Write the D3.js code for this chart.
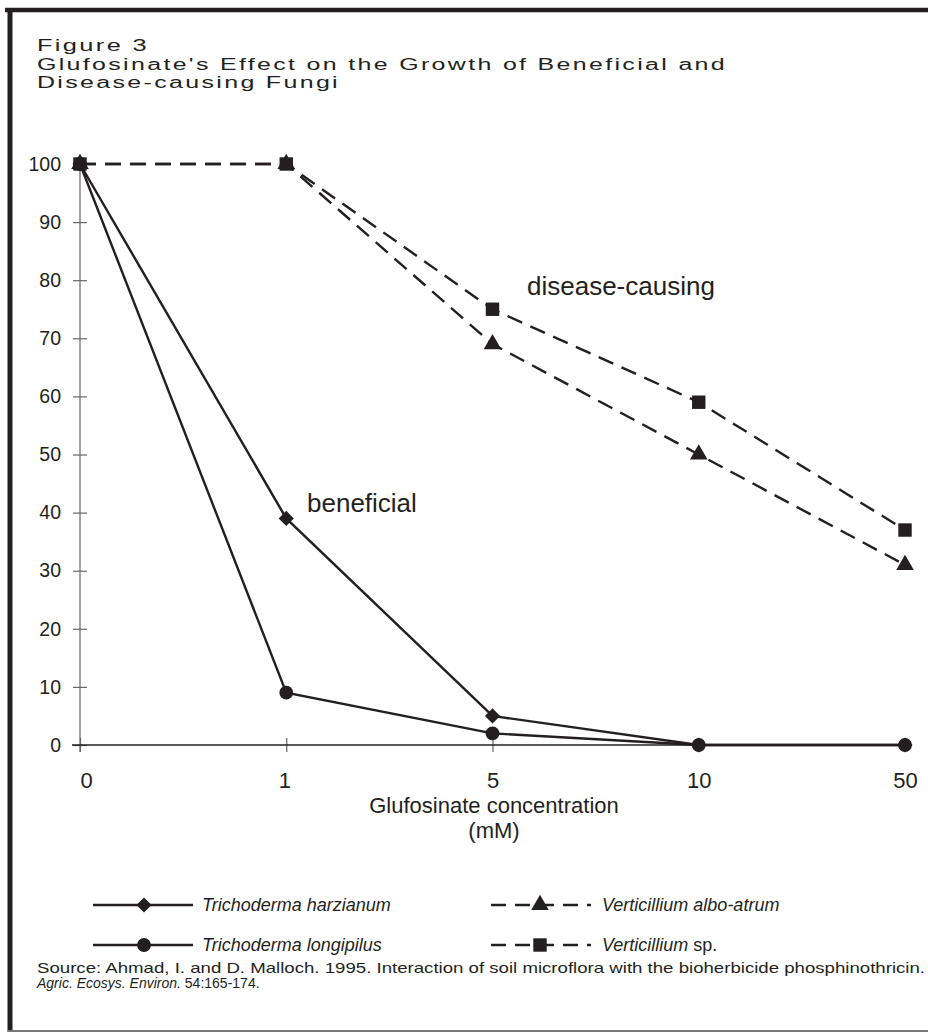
<!DOCTYPE html>
<html>
<head>
<meta charset="utf-8">
<script src="https://cdn.jsdelivr.net/npm/d3@7"></script>
<style>
  body { margin: 0; background: #fff; }
  svg { display: block; }
</style>
</head>
<body>
<div id="chart"></div>
<script>
const concentrations = ['0', '1', '5', '10', '50'];
const harzianum = [100, 39, 5, 0, 0];
const longipilus = [100, 9, 2, 0, 0];
const alboAtrum = [100, 100, 69, 50, 31];
const verticilliumSp = [100, 100, 75, 59, 37];
const yTicks = [0, 10, 20, 30, 40, 50, 60, 70, 80, 90, 100];

const ink = '#231f20';
const sans = '"Liberation Sans", Arial, sans-serif';
const fullWidth = 928;
const fullHeight = 1036;

let svg = d3.select('#chart')
            .append('svg')
            .attr('width', fullWidth)
            .attr('height', fullHeight);

// frame
svg.append('line')
   .attr('x1', 5).attr('x2', fullWidth).attr('y1', 10).attr('y2', 10)
   .attr('stroke', ink).attr('stroke-width', 4.5);
svg.append('line')
   .attr('x1', 10).attr('x2', 10).attr('y1', 8).attr('y2', 1032)
   .attr('stroke', ink).attr('stroke-width', 5);
svg.append('line')
   .attr('x1', 8).attr('x2', fullWidth).attr('y1', 1031).attr('y2', 1031)
   .attr('stroke', '#777').attr('stroke-width', 2);

// title
const titleLines = ['Figure 3',
                    "Glufosinate's Effect on the Growth of Beneficial and",
                    'Disease-causing Fungi'];
const titleWidths = [112, 690, 303];
svg.append('g')
   .selectAll('text')
   .data(titleLines)
   .join('text')
     .attr('x', 37)
     .attr('y', (d, i) => 51 + i * 18.7)
     .attr('fill', ink)
     .attr('font-family', sans)
     .attr('font-size', 16)
     .attr('textLength', (d, i) => titleWidths[i])
     .attr('lengthAdjust', 'spacingAndGlyphs')
     .attr('letter-spacing', 1.5)
     .text(d => d);

let x = d3.scalePoint()
          .domain(concentrations)
          .range([80, 905]);

let y = d3.scaleLinear()
          .domain([0, 100])
          .range([745, 164]);

// y axis
let yAxis = svg.append('g')
   .attr('transform', 'translate(80,0)')
   .call(d3.axisLeft(y).tickValues(yTicks).tickSizeOuter(0));
yAxis.select('.domain').remove();
yAxis.append('line')
     .attr('x1', 0).attr('x2', 0).attr('y1', 164).attr('y2', 752)
     .attr('stroke', '#666').attr('stroke-width', 1.2);
yAxis.selectAll('.tick line')
     .attr('x1', -7).attr('x2', 7)
     .attr('stroke', '#666').attr('stroke-width', 1.2);
yAxis.selectAll('.tick text')
     .attr('x', -19)
     .attr('fill', ink)
     .attr('font-family', sans)
     .attr('font-size', 19.5);

// x axis
let xAxis = svg.append('g')
   .attr('transform', 'translate(0,745)')
   .call(d3.axisBottom(x).tickSizeOuter(0));
xAxis.select('.domain').remove();
xAxis.append('line')
     .attr('x1', 72).attr('x2', 905).attr('y1', 0).attr('y2', 0)
     .attr('stroke', ink).attr('stroke-width', 1.3);
xAxis.selectAll('.tick line')
     .attr('y1', -7).attr('y2', 7)
     .attr('stroke', '#666').attr('stroke-width', 1.2);
xAxis.selectAll('.tick text')
     .attr('y', 43)
     .attr('dy', 0)
     .attr('dx', (d, i) => i === 0 ? 6 : (i === 1 ? -2 : 0))
     .attr('fill', ink)
     .attr('font-family', sans)
     .attr('font-size', 22);

svg.append('text')
   .attr('x', 494).attr('y', 813)
   .attr('text-anchor', 'middle')
   .attr('fill', ink)
   .attr('font-family', sans)
   .attr('font-size', 22)
   .text('Glufosinate concentration');
svg.append('text')
   .attr('x', 494).attr('y', 838)
   .attr('text-anchor', 'middle')
   .attr('fill', ink)
   .attr('font-family', sans)
   .attr('font-size', 22)
   .text('(mM)');

// series
const series = [
  { values: harzianum, symbol: d3.symbolSquare, size: 115, rotate: 45, dash: null },
  { values: longipilus, symbol: d3.symbolCircle, size: 150, rotate: 0, dash: null },
  { values: alboAtrum, symbol: d3.symbolTriangle, size: 135, rotate: 0, dash: '16,9' },
  { values: verticilliumSp, symbol: d3.symbolSquare, size: 180, rotate: 0, dash: '16,9' }
];

let line = d3.line()
             .x((d, i) => x(concentrations[i]))
             .y(d => y(d));

let plot = svg.append('g');

plot.selectAll('path.series')
    .data(series)
    .join('path')
      .attr('class', 'series')
      .attr('fill', 'none')
      .attr('stroke', ink)
      .attr('stroke-width', 2.4)
      .attr('stroke-dasharray', d => d.dash)
      .attr('d', d => line(d.values));

series.forEach(s => {
  plot.append('g')
      .selectAll('path')
      .data(s.values)
      .join('path')
        .attr('transform', (d, i) => 'translate(' + x(concentrations[i]) + ',' + y(d) + ') rotate(' + s.rotate + ')')
        .attr('fill', ink)
        .attr('d', d3.symbol().type(s.symbol).size(s.size));
});

// annotations
svg.append('text')
   .attr('x', 527).attr('y', 295)
   .attr('fill', ink)
   .attr('font-family', sans)
   .attr('font-size', 26)
   .text('disease-causing');
svg.append('text')
   .attr('x', 307).attr('y', 512)
   .attr('fill', ink)
   .attr('font-family', sans)
   .attr('font-size', 26)
   .text('beneficial');

// legend
const legendItems = [
  { name: 'Trichoderma harzianum', extra: '', s: 0, lx: 93, ly: 905 },
  { name: 'Trichoderma longipilus', extra: '', s: 1, lx: 93, ly: 945 },
  { name: 'Verticillium albo-atrum', extra: '', s: 2, lx: 491, ly: 905 },
  { name: 'Verticillium', extra: ' sp.', s: 3, lx: 491, ly: 945 }
];

let legend = svg.append('g');
legendItems.forEach(item => {
  let s = series[item.s];
  let g = legend.append('g').attr('transform', 'translate(' + item.lx + ',' + item.ly + ')');
  g.append('line')
   .attr('x1', 0).attr('x2', 100)
   .attr('y1', 0).attr('y2', 0)
   .attr('stroke', ink).attr('stroke-width', 2.4)
   .attr('stroke-dasharray', s.dash ? '15,9' : null);
  g.append('path')
   .attr('transform', 'translate(' + (s.dash ? 49 : 51) + ',0) rotate(' + s.rotate + ')')
   .attr('fill', ink)
   .attr('d', d3.symbol().type(s.symbol).size(s.size));
  let t = g.append('text')
   .attr('x', s.dash ? 111 : 109)
   .attr('y', 6)
   .attr('fill', ink)
   .attr('font-family', sans)
   .attr('font-size', 18);
  t.append('tspan').attr('font-style', 'italic').text(item.name);
  if (item.extra) t.append('tspan').text(item.extra);
});

// source
let src = svg.append('g')
   .attr('fill', ink)
   .attr('font-family', sans)
   .attr('font-size', 14.5);
src.append('text')
   .attr('x', 37).attr('y', 973)
   .attr('textLength', 888)
   .attr('lengthAdjust', 'spacingAndGlyphs')
   .text('Source: Ahmad, I. and D. Malloch. 1995. Interaction of soil microflora with the bioherbicide phosphinothricin.');
let src2 = src.append('text').attr('x', 37).attr('y', 988).attr('font-size', 14);
src2.append('tspan').attr('font-style', 'italic').text('Agric. Ecosys. Environ.');
src2.append('tspan').text(' 54:165-174.');
</script>
</body>
</html>
